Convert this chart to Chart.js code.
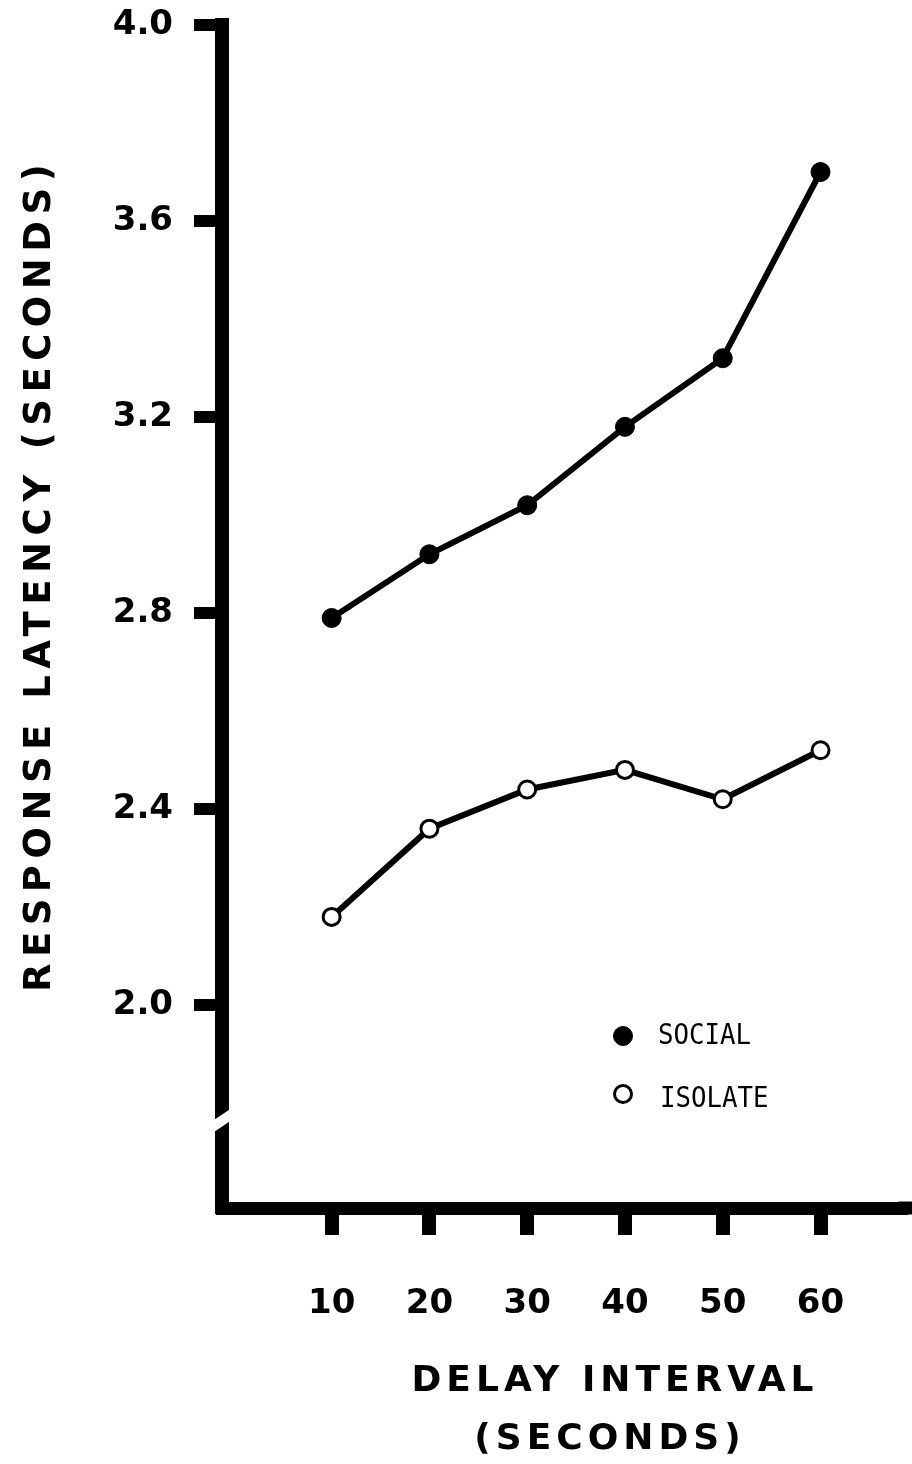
<!DOCTYPE html>
<html>
<head>
<meta charset="utf-8">
<script src="https://cdn.jsdelivr.net/npm/chart.js@4/dist/chart.umd.min.js"></script>
<style>
  html, body { margin: 0; padding: 0; background: #fff; }
  #wrap { width: 912px; height: 1464px; }
</style>
</head>
<body>
<div id="wrap"><canvas id="c" width="912" height="1464"></canvas></div>
<script>
// Delay interval (seconds) on x, mean response latency (seconds) on y
const delayIntervals = [10, 20, 30, 40, 50, 60];
const socialLatency  = [2.79, 2.92, 3.02, 3.18, 3.32, 3.70];
const isolateLatency = [2.18, 2.36, 2.44, 2.48, 2.42, 2.52];
const yTickValues    = [2.0, 2.4, 2.8, 3.2, 3.6, 4.0];
const seriesNames    = ['SOCIAL', 'ISOLATE'];
const yTitle         = 'RESPONSE LATENCY (SECONDS)';
const xTitleLines    = ['DELAY INTERVAL', '(SECONDS)'];

const labelFont = '"DejaVu Sans", sans-serif';
const legendFont = '"DejaVu Sans Mono", monospace';

const toPoints = vals => vals.map((v, i) => ({ x: delayIntervals[i], y: v }));

// Axis titles, the broken-axis mark and the legend key
const decorations = {
  id: 'decorations',
  afterDraw(chart) {
    const { ctx, chartArea, scales: { x, y } } = chart;
    const axisX = chartArea.left;

    // horizontal axis runs on to the edge of the canvas
    ctx.save();
    ctx.fillStyle = '#000';
    ctx.fillRect(chartArea.right - 2, x.top - 6.5, chart.width - chartArea.right + 2, 13);
    ctx.restore();

    // break in the vertical axis below 2.0
    const yb = y.getPixelForValue(1.765);
    ctx.save();
    ctx.fillStyle = '#fff';
    ctx.beginPath();
    ctx.moveTo(axisX - 10, yb + 1);
    ctx.lineTo(axisX + 11, yb - 13);
    ctx.lineTo(axisX + 11, yb - 1);
    ctx.lineTo(axisX - 10, yb + 13);
    ctx.closePath();
    ctx.fill();
    ctx.restore();

    // vertical axis title
    ctx.save();
    ctx.fillStyle = '#000';
    ctx.font = 'bold 37px ' + labelFont;
    ctx.letterSpacing = '6.5px';
    ctx.textAlign = 'center';
    ctx.textBaseline = 'middle';
    ctx.translate(40, 575);
    ctx.rotate(-Math.PI / 2);
    ctx.fillText(yTitle, 0, 0);
    ctx.restore();

    // horizontal axis title (two lines)
    ctx.save();
    ctx.fillStyle = '#000';
    ctx.font = 'bold 36px ' + labelFont;
    ctx.letterSpacing = '5px';
    ctx.textAlign = 'center';
    ctx.textBaseline = 'middle';
    ctx.fillText(xTitleLines[0], 615, 1382);
    ctx.fillText(xTitleLines[1], 610, 1440);
    ctx.restore();

    // legend key
    const rows = [{ cx: 623, cy: 1036, tx: 658 }, { cx: 623, cy: 1094, tx: 660 }];
    chart.data.datasets.forEach((ds, i) => {
      const r = rows[i];
      ctx.save();
      ctx.beginPath();
      ctx.arc(r.cx, r.cy, ds.pointRadius, 0, Math.PI * 2);
      ctx.fillStyle = ds.pointBackgroundColor;
      ctx.fill();
      ctx.lineWidth = ds.pointBorderWidth;
      ctx.strokeStyle = ds.pointBorderColor;
      ctx.stroke();
      ctx.fillStyle = '#000';
      ctx.font = '28px ' + legendFont;
      ctx.textAlign = 'left';
      ctx.textBaseline = 'middle';
      ctx.translate(r.tx, r.cy + (i === 1 ? 6 : 1));
      ctx.scale(0.92, 1);
      ctx.fillText(ds.label, 0, 0);
      ctx.restore();
    });
  }
};

new Chart(document.getElementById('c'), {
  type: 'line',
  data: {
    datasets: [
      {
        label: seriesNames[0],
        data: toPoints(socialLatency),
        borderColor: '#000',
        borderWidth: 6,
        pointRadius: 9.5,
        pointBackgroundColor: '#000',
        pointBorderColor: '#000',
        pointBorderWidth: 1,
        tension: 0
      },
      {
        label: seriesNames[1],
        data: toPoints(isolateLatency),
        borderColor: '#000',
        borderWidth: 6,
        pointRadius: 8.5,
        pointBackgroundColor: '#fff',
        pointBorderColor: '#000',
        pointBorderWidth: 3,
        tension: 0
      }
    ]
  },
  options: {
    responsive: false,
    devicePixelRatio: 1,
    animation: false,
    layout: { padding: { top: 25, right: 0, left: 0, bottom: 0 } },
    plugins: { legend: { display: false }, tooltip: { enabled: false } },
    scales: {
      x: {
        type: 'linear',
        min: -1.214,
        max: 68.18,
        afterBuildTicks: s => { s.ticks = delayIntervals.map(v => ({ value: v })); },
        afterFit: s => { s.height = 256; s.paddingLeft = 0; s.paddingRight = 0; },
        border: { display: true, width: 13, color: '#000' },
        grid: { drawOnChartArea: false, drawTicks: true, tickLength: 27, lineWidth: 14, color: '#000' },
        ticks: {
          color: '#000',
          font: { family: labelFont, size: 34, weight: 'bold' },
          padding: 49,
          maxRotation: 0,
          autoSkip: false
        }
      },
      y: {
        type: 'linear',
        min: 1.586,
        max: 4.0,
        afterBuildTicks: s => { s.ticks = yTickValues.map(v => ({ value: v })); },
        afterFit: s => { s.width = 222; s.paddingTop = 0; s.paddingBottom = 0; },
        border: { display: true, width: 14, color: '#000' },
        grid: { drawOnChartArea: false, drawTicks: true, tickLength: 28, lineWidth: 12, color: '#000' },
        ticks: {
          color: '#000',
          font: { family: labelFont, size: 34, weight: 'bold' },
          padding: 21,
          autoSkip: false,
          callback: v => Number(v).toFixed(1)
        }
      }
    }
  },
  plugins: [decorations]
});
</script>
</body>
</html>
